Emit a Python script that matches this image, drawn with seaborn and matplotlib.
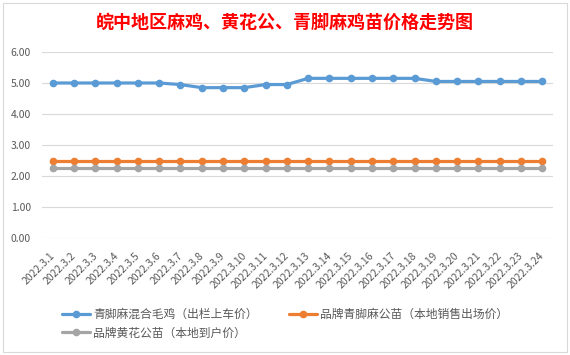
import numpy as np
import pandas as pd
import matplotlib
matplotlib.use('Agg')
import matplotlib.pyplot as plt
import matplotlib.patches as mpatches
import matplotlib.transforms as mtransforms
import seaborn as sns

# data
dates = ['2022.3.1', '2022.3.2', '2022.3.3', '2022.3.4', '2022.3.5', '2022.3.6',
         '2022.3.7', '2022.3.8', '2022.3.9', '2022.3.10', '2022.3.11', '2022.3.12',
         '2022.3.13', '2022.3.14', '2022.3.15', '2022.3.16', '2022.3.17', '2022.3.18',
         '2022.3.19', '2022.3.20', '2022.3.21', '2022.3.22', '2022.3.23', '2022.3.24']
mixed_chicken = [5.0, 5.0, 5.0, 5.0, 5.0, 5.0, 4.95, 4.85, 4.85, 4.85, 4.95, 4.95,
                 5.15, 5.15, 5.15, 5.15, 5.15, 5.15, 5.05, 5.05, 5.05, 5.05, 5.05, 5.05]
qingjiao_chick = [2.5] * 24
huanghua_chick = [2.25] * 24
series_names = ['青脚麻混合毛鸡（出栏上车价）', '品牌青脚麻公苗（本地销售出场价）', '品牌黄花公苗（本地到户价）']
colors = ['#5B9BD5', '#ED7D31', '#A5A5A5']

sns.set_theme(style='white')
plt.rcParams['font.family'] = ['Noto Sans CJK SC', 'DejaVu Sans']
plt.rcParams['axes.unicode_minus'] = False

pos = np.arange(len(dates))
df = pd.DataFrame({'pos': np.tile(pos, 3),
                   'price': mixed_chicken + qingjiao_chick + huanghua_chick,
                   'series': np.repeat(series_names, len(dates))})

fig = plt.figure(figsize=(5.7, 3.55), dpi=100)
ax = fig.add_axes([42/570, 1-238/355, (553-42)/570, (238-52)/355])

sns.lineplot(data=df, x='pos', y='price', hue='series', hue_order=series_names,
             palette=colors, marker='o', markersize=5.5, markeredgewidth=0,
             linewidth=2.3, ax=ax, legend=True)

ax.set_xlim(-0.5, len(dates) - 0.5)
ax.set_ylim(0, 6)
ax.set_yticks(np.arange(0, 7, 1))
ax.set_yticklabels(['%.2f' % v for v in np.arange(0, 7, 1)])
ax.set_xticks(pos)
ax.set_xticklabels(dates, rotation=45, ha='right', va='top')
ax.tick_params(axis='both', length=0, labelsize=7.5, colors='#595959')
ax.tick_params(axis='y', pad=8)
ax.tick_params(axis='x', pad=9)
# nudge date labels a bit right, like Excel does
shift = mtransforms.ScaledTranslation(4/100, 0, fig.dpi_scale_trans)
for lbl in ax.get_xticklabels():
    lbl.set_transform(lbl.get_transform() + shift)
ax.set_xlabel('')
ax.set_ylabel('')
ax.grid(axis='y', color='#d9d9d9', linewidth=0.8)
ax.set_axisbelow(True)
for s in ax.spines.values():
    s.set_visible(False)

# legend filled row by row: blue, orange / gray
handles, labels = ax.get_legend_handles_labels()
order = [0, 2, 1]
ax.legend([handles[i] for i in order], [labels[i] for i in order], loc='center',
          bbox_to_anchor=(0.5, 0.088), bbox_transform=fig.transFigure, ncol=2,
          frameon=False, fontsize=8.5, labelcolor='#595959', handlelength=2.4,
          handletextpad=0.3, columnspacing=2.6, labelspacing=0.45)

fig.text(0.5, 1-22/355, '皖中地区麻鸡、黄花公、青脚麻鸡苗价格走势图', ha='center', va='center',
         color='#FF0000', fontsize=13, fontweight='bold')

# chart area border
fig.patches.append(mpatches.Rectangle((3/570, 3/355), 564/570, 349/355, transform=fig.transFigure,
                                      fill=False, edgecolor='#d9d9d9', linewidth=0.8))

fig.savefig('out.png', dpi=100)
